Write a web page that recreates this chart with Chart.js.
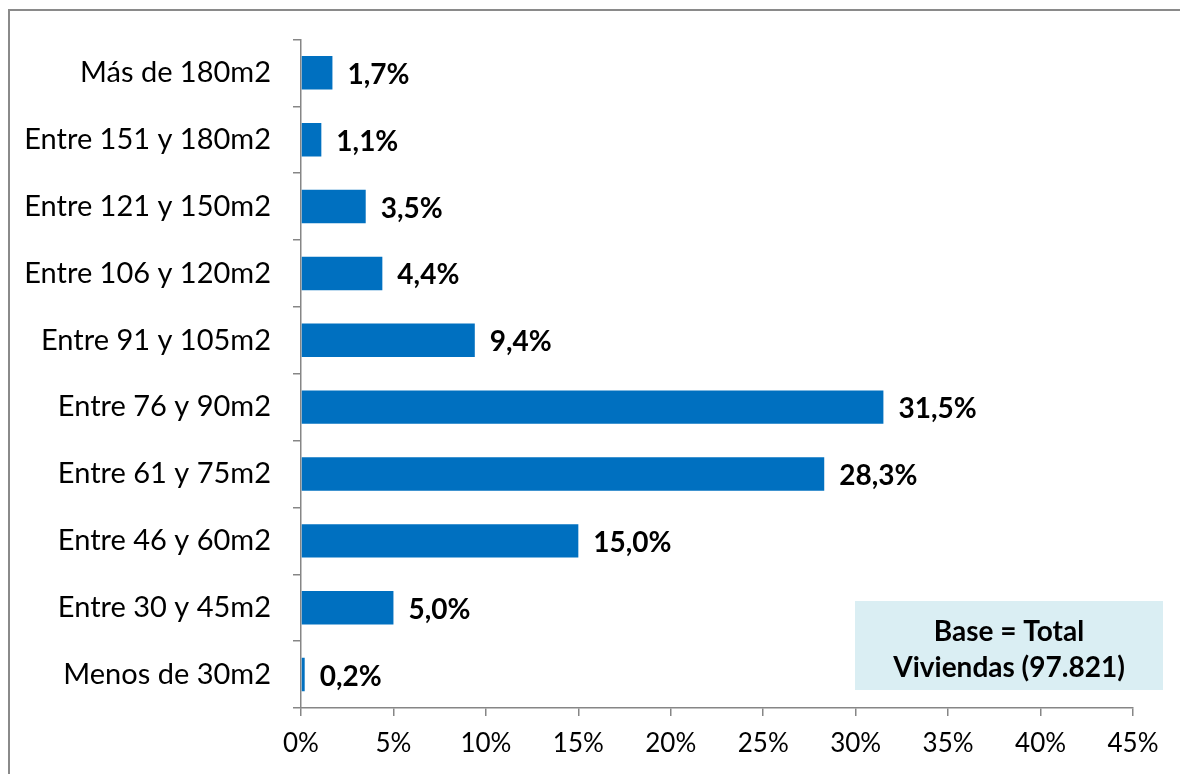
<!DOCTYPE html>
<html><head><meta charset="utf-8">
<script src="https://cdn.jsdelivr.net/npm/chart.js@4"></script>
<style>html,body{margin:0;padding:0;background:#fff}#wrap{position:relative;width:1180px;height:774px}</style>
</head><body><div id="wrap"><canvas id="c" width="1180" height="774"></canvas></div>
<script>
const categories = ["Más de 180m2","Entre 151 y 180m2","Entre 121 y 150m2","Entre 106 y 120m2","Entre 91 y 105m2","Entre 76 y 90m2","Entre 61 y 75m2","Entre 46 y 60m2","Entre 30 y 45m2","Menos de 30m2"];
const values = [1.7, 1.1, 3.5, 4.4, 9.4, 31.5, 28.3, 15.0, 5.0, 0.2];
const xTicks = [0,5,10,15,20,25,30,35,40,45];
const noteLines = ["Base = Total", "Viviendas (97.821)"];
const FONT = "Lato, 'Open Sans', sans-serif";

const fmt = v => v.toFixed(1).replace('.', ',') + '%';

const labelPlugin = {
  id: 'labels',
  afterDatasetsDraw(chart) {
    const ctx = chart.ctx;
    const meta = chart.getDatasetMeta(0);
    ctx.save();
    ctx.font = "bold 28px " + FONT;
    ctx.fillStyle = '#000';
    ctx.textAlign = 'left';
    ctx.textBaseline = 'middle';
    meta.data.forEach((bar, i) => {
      ctx.fillText(fmt(values[i]), bar.x + 15, bar.y + 2);
    });
    ctx.restore();
  }
};
const framePlugin = {
  id: 'frame',
  beforeDraw(chart) {
    const ctx = chart.ctx;
    ctx.save();
    ctx.strokeStyle = '#8a8a8a';
    ctx.lineWidth = 2;
    ctx.strokeRect(9, 10, 1200, 800);
    ctx.restore();
  },
  afterDraw(chart) {
    const ctx = chart.ctx, a = chart.chartArea;
    const x0 = a.right - 278, x1 = a.right + 30, y0 = a.bottom - 107, y1 = a.bottom - 18;
    ctx.save();
    ctx.fillStyle = '#DAEEF3';
    ctx.fillRect(x0, y0, x1 - x0, y1 - y0);
    ctx.font = "bold 28px " + FONT;
    ctx.fillStyle = '#000';
    ctx.textAlign = 'center';
    ctx.textBaseline = 'middle';
    const cx = (x0 + x1) / 2;
    ctx.fillText(noteLines[0], cx, y0 + 31);
    ctx.fillText(noteLines[1], cx, y0 + 67);
    ctx.restore();
  }
};

new Chart(document.getElementById('c'), {
  type: 'bar',
  data: { labels: categories, datasets: [{ data: values, backgroundColor: '#0070C0', barPercentage: 0.5, categoryPercentage: 1 }] },
  options: {
    indexAxis: 'y', responsive: false, animation: false,
    layout: { padding: { left: 0, right: 47, top: 39, bottom: 0 } },
    plugins: { legend: { display: false }, tooltip: { enabled: false } },
    scales: {
      x: {
        min: 0, max: 45,
        afterBuildTicks: s => { s.ticks = xTicks.map(v => ({ value: v })); },
        afterFit: s => { s.height = 66; },
        grid: { drawOnChartArea: false, tickLength: 8, color: '#868686', lineWidth: 1.5 },
        border: { color: '#868686', width: 1.5 },
        ticks: { color: '#000', font: { family: FONT, size: 26 }, padding: 12, callback: v => v + '%' }
      },
      y: {
        afterFit: s => { s.width = 301; },
        grid: { drawOnChartArea: false, tickLength: 8, color: '#868686', lineWidth: 1.5, offset: true },
        border: { color: '#868686', width: 1.5 },
        ticks: { color: '#000', font: { family: FONT, size: 29 }, padding: 22 }
      }
    }
  },
  plugins: [labelPlugin, framePlugin]
});
</script></body></html>
